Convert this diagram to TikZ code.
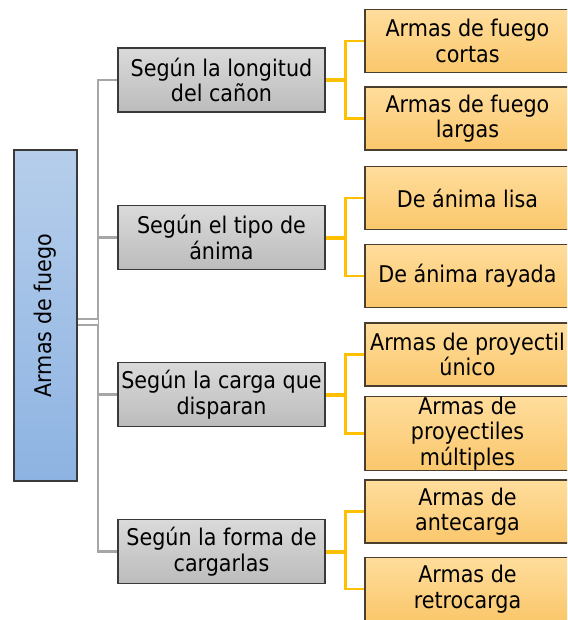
\documentclass[tikz,border=0pt]{standalone}
\usepackage{fontspec}
\setmainfont{DejaVu Sans Condensed}
\definecolor{blueT}{HTML}{B6CEEB}
\definecolor{blueB}{HTML}{8DB3E2}
\definecolor{grayT}{HTML}{DADADA}
\definecolor{grayB}{HTML}{BCBCBC}
\definecolor{orT}{HTML}{FFDD9C}
\definecolor{orB}{HTML}{FAC76C}
\definecolor{orLine}{HTML}{FFC000}
\definecolor{lineGray}{HTML}{A6A6A6}
\definecolor{boxEdge}{HTML}{3A3A3A}
\definecolor{orEdge}{HTML}{4A3F2E}
\begin{document}
\begin{tikzpicture}[x=1pt,y=-1pt,
  rootbox/.style={draw=boxEdge, line width=1.2pt, top color=blueT, bottom color=blueB,
    minimum width=63pt, minimum height=331pt, inner sep=0pt},
  catbox/.style={draw=boxEdge, line width=1.2pt, top color=grayT, bottom color=grayB,
    minimum width=207pt, minimum height=64pt, inner sep=0pt, align=center,
    font=\fontsize{23}{25.5}\selectfont},
  leafbox/.style={draw=orEdge, line width=1.2pt, top color=orT, bottom color=orB,
    minimum width=205pt, minimum height=63pt, inner sep=0pt, align=center,
    font=\fontsize{23}{25.5}\selectfont},
  gline/.style={draw=lineGray, line width=2.2pt},
  othick/.style={draw=orLine, line width=4pt},
  oline/.style={draw=orLine, line width=2.5pt},
]
\useasboundingbox (0,0) rectangle (567,620);
\begin{scope}
\clip (0,0) rectangle (567,620);
% root
\node[rootbox] (root) at (45.5,315.5) {};
\node[rotate=90, font=\fontsize{23}{25.5}\selectfont] (roottext) at (45.5,315.5) {Armas de fuego};
% categories
\node[catbox] (c1) at (221.5,80) {Según la longitud\\del cañon};
\node[catbox] (c2) at (221.5,237.5) {Según el tipo de\\ánima};
\node[catbox] (c3) at (221.5,394.5) {Según la carga que\\disparan};
\node[catbox] (c4) at (221.5,551.5) {Según la forma de\\cargarlas};
% leaves
\node[leafbox] (l1) at (467.5,41) {Armas de fuego\\cortas};
\node[leafbox] (l2) at (467.5,118.5) {Armas de fuego\\largas};
\node[leafbox] (l3) at (467.5,198) {De ánima lisa};
\node[leafbox] (l4) at (467.5,276) {De ánima rayada};
\node[leafbox] (l5) at (467.5,354.5) {Armas de proyectil\\único};
\node[leafbox] (l6) at (467.5,433.5) {Armas de\\proyectiles\\múltiples};
\node[leafbox] (l7) at (467.5,511.5) {Armas de\\antecarga};
\node[leafbox] (l8) at (467.5,589) {Armas de\\retrocarga};
% gray trunk
\coordinate (trunk) at (98,322);
\coordinate (t1) at (98,80);
\coordinate (t2) at (98,237.5);
\coordinate (t3) at (98,394.5);
\coordinate (t4) at (98,551.5);
\draw[gline] (c1.west) -- (t1) -- (t4) -- (c4.west);
\draw[gline] (c2.west) -- (t2);
\draw[gline] (c3.west) -- (t3);
\draw[draw=lineGray, line width=2pt, double=white, double distance=4.5pt] (root.east |- trunk) -- (trunk);
% orange connectors
\foreach \c/\a/\b in {c1/l1/l2, c2/l3/l4, c3/l5/l6, c4/l7/l8}{
  \coordinate (j\c) at ([xshift=20pt]\c.east);
  \draw[othick] (\c.east) -- (j\c);
  \draw[oline] (\a.west) -| (j\c) |- (\b.west);
}
\end{scope}
\end{tikzpicture}
\end{document}
